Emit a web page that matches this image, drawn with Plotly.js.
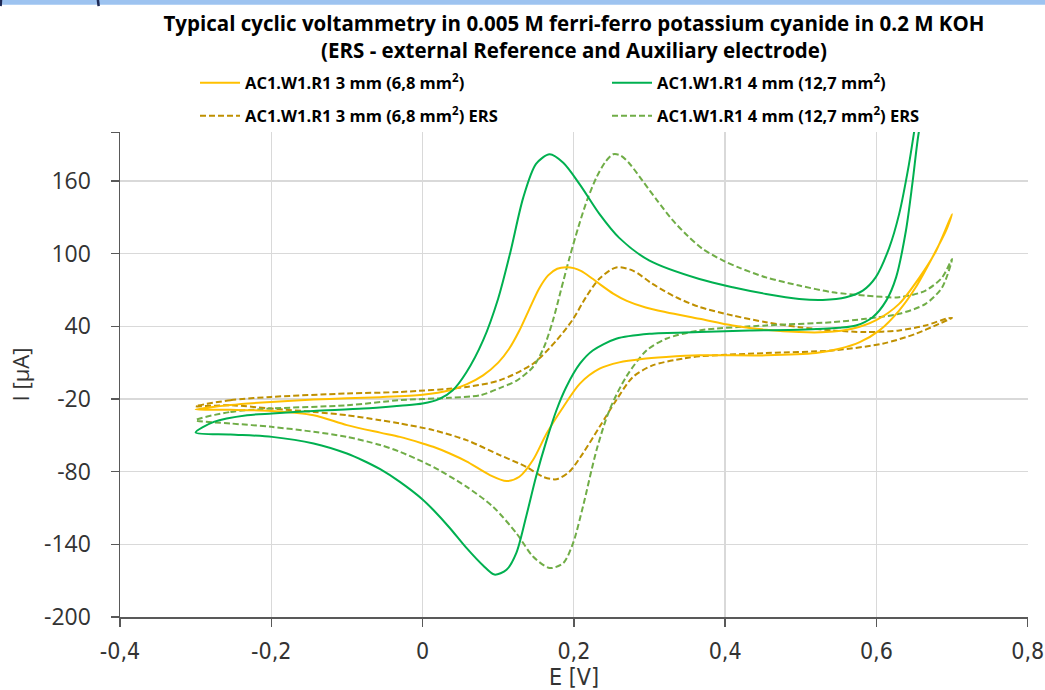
<!DOCTYPE html>
<html>
<head>
<meta charset="utf-8">
<script src="https://cdn.plot.ly/plotly-3.0.1.min.js"></script>
<style>html,body{margin:0;padding:0;background:#fff}#chart{width:1045px;height:690px}</style>
</head>
<body>
<div id="chart"></div>
<script>
// ---- Data (E in V, I in µA); each curve is one closed CV loop starting at -0.3 V ----
const seriesNames = [
  'AC1.W1.R1 3 mm (6,8 mm<sup>2</sup>)',
  'AC1.W1.R1 4 mm (12,7 mm<sup>2</sup>)',
  'AC1.W1.R1 3 mm (6,8 mm<sup>2</sup>) ERS',
  'AC1.W1.R1 4 mm (12,7 mm<sup>2</sup>) ERS'
];

const E_3mm = [-0.300,-0.254,-0.200,-0.144,-0.100,-0.056,0.000,0.036,0.058,0.080,0.100,0.114,0.128,0.141,0.154,0.166,0.178,0.190,0.200,0.210,0.222,0.236,0.252,0.270,0.295,0.322,0.366,0.410,0.454,0.498,0.533,0.568,0.599,0.630,0.657,0.679,0.700,
  0.692,0.674,0.652,0.630,0.604,0.578,0.551,0.520,0.454,0.366,0.322,0.290,0.260,0.234,0.208,0.186,0.164,0.146,0.128,0.111,0.089,0.058,0.036,0.014,0.000,-0.030,-0.056,-0.100,-0.144,-0.200,-0.254,-0.300];
const I_3mm = [-28.7,-25.0,-22.4,-20.5,-19.5,-18.5,-16.5,-12.8,-8.0,-0.5,10.0,21.0,36.5,54.0,71.0,82.0,87.5,88.8,88.0,85.5,80.5,74.0,67.0,61.0,55.5,51.6,46.2,40.7,37.1,35.2,35.2,37.9,44.8,58.5,80.4,102.4,132.6,
  118.9,96.9,72.2,53.0,36.6,26.9,21.4,17.9,16.0,16.0,14.6,13.0,10.2,5.0,-7.3,-26.6,-48.5,-70.4,-84.2,-87.7,-82.8,-71.5,-65.0,-59.5,-56.7,-51.3,-47.8,-41.6,-33.4,-29.9,-29.0,-28.7];

const E_4mm = [-0.300,-0.276,-0.232,-0.199,-0.144,-0.078,-0.030,0.000,0.023,0.040,0.058,0.080,0.100,0.116,0.133,0.150,0.168,0.186,0.208,0.234,0.260,0.300,0.366,0.410,0.454,0.498,0.529,0.560,0.582,0.599,0.617,0.630,0.643,0.650,0.665,0.680,0.700,
  0.690,0.675,0.665,0.656,0.648,0.639,0.626,0.613,0.595,0.573,0.551,0.498,0.432,0.366,0.300,0.256,0.225,0.208,0.190,0.177,0.164,0.150,0.137,0.124,0.111,0.095,0.080,0.058,0.036,0.014,0.000,-0.030,-0.056,-0.078,-0.100,-0.144,-0.199,-0.254,-0.300];
const I_4mm = [-47.6,-38.9,-33.4,-32.0,-29.9,-27.9,-25.5,-23.8,-19.7,-12.8,2.0,28.3,63.0,101.0,146.0,174.0,182.0,175.0,157.0,132.6,113.0,94.2,79.0,72.2,66.7,62.6,61.8,64.0,69.5,80.4,105.0,132.6,173.7,201.0,260.0,320.0,390.0,
  330.0,260.0,225.0,200.0,160.0,118.9,80.4,61.2,47.5,40.7,38.8,37.1,36.6,35.2,33.8,29.7,20.0,9.1,-10.1,-29.3,-54.0,-84.2,-117.0,-147.0,-161.0,-165.0,-157.5,-143.0,-126.5,-111.5,-103.0,-88.5,-78.0,-71.0,-65.0,-56.7,-51.3,-49.3,-47.6];

const E_3mmERS = [-0.300,-0.254,-0.200,-0.100,-0.030,0.058,0.102,0.146,0.177,0.199,0.216,0.234,0.256,0.278,0.304,0.335,0.366,0.410,0.454,0.498,0.542,0.586,0.630,0.665,0.692,0.700,
  0.683,0.652,0.608,0.542,0.454,0.366,0.344,0.304,0.278,0.256,0.234,0.212,0.194,0.177,0.159,0.137,0.102,0.058,0.014,-0.030,-0.056,-0.100,-0.144,-0.200,-0.254,-0.300];
const I_3mmERS = [-26.0,-21.0,-18.3,-15.5,-14.2,-10.1,-4.6,9.1,28.3,46.0,64.0,79.5,88.6,86.0,75.0,64.0,56.0,48.9,43.4,39.3,36.6,35.2,36.6,40.7,46.2,47.0,
  42.1,33.8,25.6,20.1,17.9,15.2,13.3,7.7,-1.9,-21.0,-43.0,-64.9,-80.1,-86.3,-84.2,-76.0,-66.3,-54.0,-45.7,-40.2,-37.5,-33.4,-30.7,-27.9,-25.2,-26.0];

const E_4mmERS = [-0.300,-0.254,-0.200,-0.100,-0.030,0.036,0.076,0.102,0.124,0.146,0.160,0.172,0.183,0.194,0.206,0.218,0.230,0.242,0.252,0.262,0.274,0.291,0.310,0.330,0.350,0.370,0.395,0.420,0.454,0.498,0.542,0.586,0.630,0.665,0.687,0.700,
  0.687,0.665,0.630,0.586,0.542,0.454,0.366,0.322,0.296,0.269,0.247,0.230,0.212,0.199,0.186,0.168,0.146,0.124,0.093,0.058,0.014,0.000,-0.030,-0.056,-0.100,-0.144,-0.200,-0.254,-0.300];
const I_4mmERS = [-37.5,-30.7,-27.9,-25.2,-21.0,-19.0,-17.0,-11.0,-5.0,6.4,22.0,44.0,70.0,96.0,122.0,145.0,163.0,176.0,182.0,181.0,174.0,160.0,144.0,128.0,115.0,104.0,95.0,88.0,80.4,73.6,68.1,65.4,64.0,69.5,80.4,95.6,
  72.2,58.5,50.3,46.2,43.4,40.7,36.6,29.7,20.0,-1.9,-29.3,-62.2,-108.9,-139.0,-155.5,-159.6,-150.0,-130.8,-108.9,-92.4,-76.0,-71.8,-63.6,-58.0,-51.3,-47.1,-43.0,-40.2,-37.5];

const yTickVals = [-200,-140,-80,-20,40,100,160,200];
const yTickText = ['-200','-140','-80','-20','40','100','160',''];
const xTickVals = [-0.4,-0.2,0,0.2,0.4,0.6,0.8];
const xTickText = ['-0,4','-0,2','0','0,2','0,4','0,6','0,8'];

const DASH = '6px,3px';
const mk = (x, y, name, color, dash, legend) => ({
  x, y, name, type: 'scatter', mode: 'lines',
  line: {color, width: 2, dash, shape: 'spline', smoothing: 0.8},
  legend, hoverinfo: 'skip'
});

const traces = [
  mk(E_3mmERS, I_3mmERS, seriesNames[2], '#BF9000', DASH, 'legend2'),
  mk(E_4mmERS, I_4mmERS, seriesNames[3], '#70AD47', DASH, 'legend2'),
  mk(E_3mm, I_3mm, seriesNames[0], '#FFC000', 'solid', 'legend'),
  mk(E_4mm, I_4mm, seriesNames[1], '#00B050', 'solid', 'legend')
];

const legFont = {family: 'Open Sans, sans-serif', size: 16.5, color: '#000', weight: 'bold'};
const narrow = 'Liberation Sans Narrow, DejaVu Sans Condensed, sans-serif';
const layout = {
  width: 1045, height: 690,
  paper_bgcolor: '#fff', plot_bgcolor: '#fff',
  margin: {l: 120, r: 17, t: 132, b: 73},
  title: {
    text: '<b>Typical cyclic voltammetry in 0.005 M ferri-ferro potassium cyanide in 0.2 M KOH<br>(ERS - external Reference and Auxiliary electrode)</b>',
    font: {family: 'Open Sans, sans-serif', size: 20.5, color: '#000'},
    x: 0.5, xref: 'paper', xanchor: 'center',
    y: 0.955, yref: 'container', yanchor: 'top'
  },
  xaxis: {
    range: [-0.4, 0.8004], tickvals: xTickVals, ticktext: xTickText,
    showgrid: true, gridcolor: '#D9D9D9', gridwidth: 1.3,
    zeroline: false, showline: true, linecolor: '#595959', linewidth: 1.5,
    ticks: 'outside', ticklen: 8, tickcolor: '#595959', tickwidth: 1.5,
    ticklabelstandoff: 5, ticklabeloverflow: 'allow',
    tickfont: {family: narrow, size: 23, color: '#333'},
    title: {text: 'E [V]', font: {family: narrow, size: 23, color: '#333'}, standoff: 10}
  },
  yaxis: {
    range: [-200, 200.4], tickvals: yTickVals, ticktext: yTickText,
    showgrid: true, gridcolor: '#D9D9D9', gridwidth: 1.3,
    zeroline: false, showline: true, linecolor: '#595959', linewidth: 1.5,
    ticks: 'outside', ticklen: 8, tickcolor: '#595959', tickwidth: 1.5,
    ticklabelstandoff: 15,
    tickfont: {family: 'Open Sans, sans-serif', size: 23, color: '#333'},
    title: {text: 'I [µA]', font: {family: 'Open Sans, sans-serif', size: 22, color: '#333'}, standoff: 8}
  },
  legend: {
    orientation: 'h', x: 0.0826, xanchor: 'left', y: 1.101, yanchor: 'middle',
    entrywidth: 357, entrywidthmode: 'pixels', itemwidth: 40,
    font: legFont, bgcolor: 'rgba(0,0,0,0)', traceorder: 'normal'
  },
  legend2: {
    orientation: 'h', x: 0.0826, xanchor: 'left', y: 1.033, yanchor: 'middle',
    entrywidth: 357, entrywidthmode: 'pixels', itemwidth: 40,
    font: legFont, bgcolor: 'rgba(0,0,0,0)', traceorder: 'normal'
  },
  shapes: [
    {type: 'rect', xref: 'paper', yref: 'paper', x0: -0.14, x1: 1.03, y0: 1.2625, y1: 1.29,
     fillcolor: '#9DC3F0', line: {width: 0}, layer: 'above'},
    {type: 'line', xref: 'paper', yref: 'paper', x0: -0.0235, x1: -0.0245, y0: 1.2596, y1: 1.275,
     line: {color: '#1F2A55', width: 2.5}, layer: 'above'},
    {type: 'line', xref: 'paper', yref: 'paper', x0: -0.1315, x1: -0.1310, y0: 1.2596, y1: 1.275,
     line: {color: '#1F2A55', width: 2.5}, layer: 'above'}
  ],
  showlegend: true
};

Plotly.newPlot('chart', traces, layout, {displayModeBar: false, staticPlot: true});
</script>
</body>
</html>
